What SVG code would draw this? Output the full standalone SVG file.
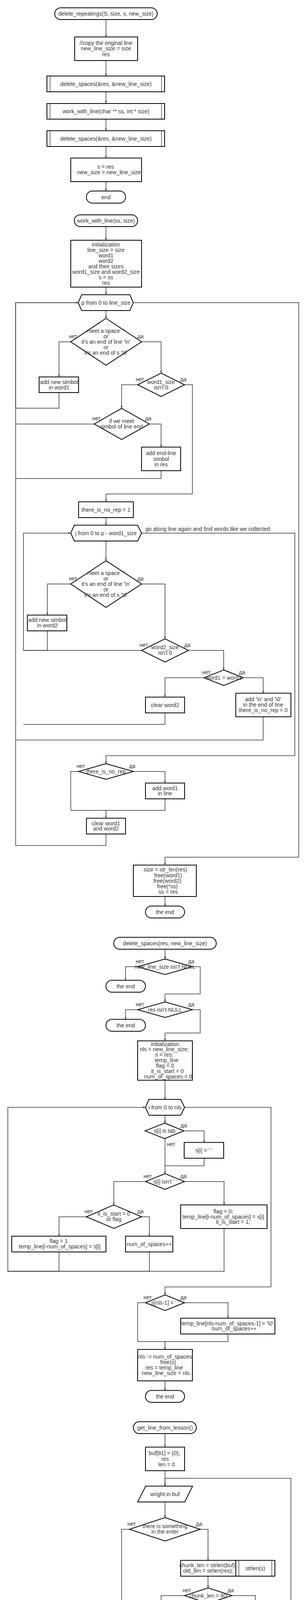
<svg xmlns="http://www.w3.org/2000/svg" width="780" height="4560" viewBox="0 0 780 4560">
<defs>
<marker id="a" viewBox="0 0 8 8" refX="8" refY="4" markerWidth="6" markerHeight="6" markerUnits="userSpaceOnUse" orient="auto"><path d="M0,1 L8,4 L0,7 z" fill="#333"/></marker>
</defs>
<style>
.s{fill:#fff;stroke:#000;stroke-width:2}
.i{stroke:#777;stroke-width:2}
.e{fill:none;stroke:#333;stroke-width:1.5}
.ea{fill:none;stroke:#333;stroke-width:1.5;marker-end:url(#a)}
text{font-family:"Liberation Sans",Arial,sans-serif;font-size:14px;fill:#333}
.t{text-anchor:middle}
.l{text-anchor:start}
</style>
<rect width="780" height="4560" fill="#fff"/>

<g id="connectors">
<path class="ea" d="M271,50V94.6"/>
<path class="ea" d="M271,155V194.6"/>
<path class="ea" d="M271,235V265"/>
<path class="ea" d="M271,305V334.6"/>
<path class="ea" d="M271,375V404.6"/>
<path class="ea" d="M271,465V489"/>
<path class="ea" d="M271,580V615"/>
<path class="ea" d="M271,735V754.6"/>
<path class="ea" d="M271,795V815"/>
<path class="ea" d="M181,875H151V965"/>
<path class="ea" d="M151,1005V1045H40V774.8H200"/>
<path class="ea" d="M362,875H412V955.4"/>
<path class="ea" d="M352,985H311V1045.4"/>
<path class="e" d="M241,1085.4H40"/>
<path class="ea" d="M382,1085.4H412V1144.6"/>
<path class="e" d="M412,1205V1225H40"/>
<path class="ea" d="M472,985H492V1264.6H271V1284.6"/>
<path class="ea" d="M271,1325V1344.6"/>
<path class="ea" d="M362,1364.8H754V1934.6H271V1955"/>
<path class="ea" d="M271,1385V1435.4"/>
<path class="ea" d="M181,1495H121V1574.6"/>
<path class="ea" d="M121,1615V1665H60V1364.8H181"/>
<path class="ea" d="M362,1495H422V1635.4"/>
<path class="e" d="M362,1665H60"/>
<path class="ea" d="M482,1665H572V1715"/>
<path class="ea" d="M522,1735H422V1784.6"/>
<path class="e" d="M422,1825V1854.6H60"/>
<path class="ea" d="M622,1735H673V1774.6"/>
<path class="e" d="M673,1835V1894.6H40"/>
<path class="ea" d="M201,1975H181V2074.6H271V2094.6"/>
<path class="ea" d="M341,1975H422V2004.6"/>
<path class="e" d="M422,2045V2074.6H271"/>
<path class="ea" d="M271,2135V2164.6H40V774.8H200"/>
<path class="ea" d="M341,774.8H764V2194.6H422V2214.6"/>
<path class="ea" d="M422,2295V2319.6"/>
<path class="ea" d="M422,2430V2455"/>
<path class="ea" d="M352,2474.8H321V2509.6"/>
<path class="ea" d="M492,2474.8H512V2544.6H422V2565"/>
<path class="ea" d="M352,2584.8H321V2609.6"/>
<path class="ea" d="M492,2584.8H512V2644.6H422V2664.6"/>
<path class="ea" d="M422,2765.4V2814.6"/>
<path class="ea" d="M472,2834.8H693V3294.6H422V3315"/>
<path class="ea" d="M422,2855V2875"/>
<path class="ea" d="M470,2895H522V2924.6"/>
<path class="e" d="M522,2965V2984.6H422"/>
<path class="ea" d="M422,2915V3004.6"/>
<path class="ea" d="M372,3024.8H291V3084.6"/>
<path class="ea" d="M472,3024.8H573V3084.6"/>
<path class="ea" d="M221,3115H151V3164.6"/>
<path class="ea" d="M362,3115H382V3164.6"/>
<path class="ea" d="M151,3205V3254.6H20V2834.8H372"/>
<path class="e" d="M382,3205V3254.6H20"/>
<path class="e" d="M573,3145V3254.6H20"/>
<path class="ea" d="M372,3335H352V3434.6H422V3454.6"/>
<path class="ea" d="M472,3335H583V3374.6"/>
<path class="e" d="M583,3415V3434.6H422"/>
<path class="ea" d="M422,3535V3559.6"/>
<path class="ea" d="M422,3670V3704.6"/>
<path class="ea" d="M422,3765V3804.6"/>
<path class="ea" d="M422,3845V3885"/>
<path class="ea" d="M512,3915H532V3994.6"/>
<path class="ea" d="M532,4035V4065"/>
<path class="ea" d="M472,4084.8H412V4144.6"/>
<path class="ea" d="M593,4084.8H653V4144.6"/>
<path class="ea" d="M412,4185V4204.6H532V4224.6"/>
<path class="e" d="M653,4185V4204.6H532"/>
<path class="ea" d="M532,4265V4284.6H744V3784.6H422V3804.6"/>
<path class="ea" d="M331,3915H311V4324.6H422V4345"/>
<path class="ea" d="M372,4364.6H311V4414.6"/>
<path class="ea" d="M472,4364.6H532V4414.6"/>
<path class="ea" d="M311,4455V4494.6H422V4509.6"/>
<path class="e" d="M532,4455V4494.6H422"/>
</g>

<g id="labels">
<text class="l" x="176" y="866">нет</text><text class="l" x="351" y="866">да</text>
<text class="l" x="347" y="976">нет</text><text class="l" x="461" y="976">да</text>
<text class="l" x="236" y="1076">нет</text><text class="l" x="371" y="1076">да</text>
<text class="l" x="176" y="1486">нет</text><text class="l" x="351" y="1486">да</text>
<text class="l" x="357" y="1656">нет</text><text class="l" x="471" y="1656">да</text>
<text class="l" x="517" y="1726">нет</text><text class="l" x="611" y="1726">да</text>
<text class="l" x="196" y="1966">нет</text><text class="l" x="330" y="1966">да</text>
<text class="l" x="347" y="2466">нет</text><text class="l" x="481" y="2466">да</text>
<text class="l" x="347" y="2576">нет</text><text class="l" x="481" y="2576">да</text>
<text class="l" x="462" y="2886">да</text><text class="l" x="427" y="2934">нет</text>
<text class="l" x="367" y="3016">нет</text><text class="l" x="461" y="3016">да</text>
<text class="l" x="216" y="3106">нет</text><text class="l" x="351" y="3106">да</text>
<text class="l" x="367" y="3326">нет</text><text class="l" x="461" y="3326">да</text>
<text class="l" x="326" y="3906">нет</text><text class="l" x="501" y="3906">да</text>
<text class="l" x="467" y="4076">нет</text><text class="l" x="582" y="4076">да</text>
<text class="l" x="367" y="4356">нет</text><text class="l" x="461" y="4356">да</text>
<text class="l" x="372" y="1359">go along line again and find words like we collected</text>
</g>

<g id="t1"><rect class="s" x="140" y="20" width="262" height="30" rx="15"/><text class="t" x="271" y="40">delete_repeatings(S, size, s, new_size)</text></g>
<g id="b1"><rect class="s" x="191" y="94.6" width="161" height="60.4"/><text class="t"><tspan x="271" y="115">//copy the original line</tspan><tspan x="271" y="129.3">new_line_size = size</tspan><tspan x="271" y="143.6">res</tspan></text></g>
<g id="pp1"><rect class="s" x="120" y="194.6" width="301" height="40.4"/><path class="i" d="M128,195.6V234M413,195.6V234"/><text class="t" x="271" y="220">delete_spaces(&amp;res, &amp;new_line_size)</text></g>
<g id="pp2"><rect class="s" x="120" y="265" width="301" height="40"/><path class="i" d="M128,266V304M413,266V304"/><text class="t" x="271" y="290">work_with_line(char ** ss, int * size)</text></g>
<g id="pp3"><rect class="s" x="120" y="334.6" width="301" height="40.4"/><path class="i" d="M128,335.6V374M413,335.6V374"/><text class="t" x="271" y="360">delete_spaces(&amp;res, &amp;new_line_size)</text></g>
<g id="b2"><rect class="s" x="181" y="404.6" width="181" height="60.4"/><text class="t"><tspan x="270" y="432">s = res</tspan><tspan x="279" y="446.4">new_size = new_line_size</tspan></text></g>
<g id="t2"><rect class="s" x="221" y="489" width="100" height="31" rx="15"/><text class="t" x="271" y="509.5">end</text></g>

<g id="t3"><rect class="s" x="190" y="550" width="162" height="30" rx="15"/><text class="t" x="271" y="570">work_with_line(ss, size)</text></g>
<g id="b3"><rect class="s" x="181" y="615" width="181" height="120"/><text class="t"><tspan x="271" y="630.5">initialization</tspan><tspan x="271" y="644.5">line_size = size</tspan><tspan x="271" y="658.5">word1</tspan><tspan x="271" y="672.5">word2</tspan><tspan x="271" y="686.5">and their sizes</tspan><tspan x="271" y="700.5">word1_size and word2_size</tspan><tspan x="271" y="714.5">s = ss</tspan><tspan x="271" y="728.5">res</tspan></text></g>
<g id="h1"><polygon class="s" points="200,774.8 209,754.6 332,754.6 341,774.8 332,795 209,795"/><text class="t" x="271" y="779.8">p from 0 to line_size</text></g>
<g id="d1"><polygon class="s" points="271,815 362,875 271,935 181,875"/><text class="t"><tspan x="271" y="851.5">meet a space ' '</tspan><tspan x="271" y="865.5">or</tspan><tspan x="271" y="879.5">it's an end of line '\n'</tspan><tspan x="271" y="893.5">or</tspan><tspan x="271" y="907.5">it's an end of s '\0'</tspan></text></g>
<g id="b4"><rect class="s" x="100" y="965" width="101" height="40"/><text class="t"><tspan x="151" y="982.5">add new simbol</tspan><tspan x="151" y="996.5">in word1</tspan></text></g>
<g id="d2"><polygon class="s" points="412,955.4 472,985 412,1015 352,985"/><text class="t"><tspan x="412" y="982.5">word1_size</tspan><tspan x="412" y="996.5">isn't 0</tspan></text></g>
<g id="d3"><polygon class="s" points="311,1045.4 382,1085.4 311,1125 241,1085.4"/><text class="t"><tspan x="311" y="1082.5">if we meet</tspan><tspan x="311" y="1096.8">simbol of line end</tspan></text></g>
<g id="b5"><rect class="s" x="362" y="1144.6" width="100" height="60.4"/><text class="t"><tspan x="412" y="1165.4">add end-line</tspan><tspan x="412" y="1179.6">simbol</tspan><tspan x="412" y="1193.6">in res</tspan></text></g>
<g id="b6"><rect class="s" x="201" y="1284.6" width="140" height="40.4"/><text class="t" x="271" y="1309.8">there_is_no_rep = 1</text></g>
<g id="h2"><polygon class="s" points="181,1364.8 190,1344.6 352,1344.6 362,1364.8 352,1385 190,1385"/><text class="t" x="271" y="1369.8">j from 0 to p - word1_size</text></g>
<g id="d4"><polygon class="s" points="271,1435.4 362,1495 271,1555 181,1495"/><text class="t"><tspan x="271" y="1471.5">meet a space ' '</tspan><tspan x="271" y="1485.5">or</tspan><tspan x="271" y="1499.5">it's an end of line '\n'</tspan><tspan x="271" y="1513.5">or</tspan><tspan x="271" y="1527.5">it's an end of s '\0'</tspan></text></g>
<g id="b7"><rect class="s" x="70" y="1574.6" width="101" height="40.4"/><text class="t"><tspan x="121" y="1592">add new simbol</tspan><tspan x="121" y="1606.4">in word2</tspan></text></g>
<g id="d5"><polygon class="s" points="422,1635.4 482,1665 422,1695 362,1665"/><text class="t"><tspan x="422" y="1662">word2_size</tspan><tspan x="422" y="1676.4">isn't 0</tspan></text></g>
<g id="d6"><polygon class="s" points="572,1715 622,1735 572,1755 522,1735"/><text class="t" x="572" y="1740">word1 = word2</text></g>
<g id="b8"><rect class="s" x="372" y="1784.6" width="100" height="40.4"/><text class="t" x="422" y="1810">clear word2</text></g>
<g id="b9"><rect class="s" x="603" y="1774.6" width="141" height="60.4"/><text class="t"><tspan x="673" y="1795.4">add '\n' and '\0'</tspan><tspan x="673" y="1809.3">in the end of line</tspan><tspan x="673" y="1823.2">there_is_no_rep = 0</tspan></text></g>
<g id="d7"><polygon class="s" points="271,1955 341,1975 271,1995 201,1975"/><text class="t" x="271" y="1980">there_is_no_rep</text></g>
<g id="b10"><rect class="s" x="372" y="2004.6" width="100" height="40.4"/><text class="t"><tspan x="422" y="2022.5">add word1</tspan><tspan x="422" y="2036.4">in line</tspan></text></g>
<g id="b11"><rect class="s" x="221" y="2094.6" width="100" height="40.4"/><text class="t"><tspan x="271" y="2112.5">clear word1</tspan><tspan x="271" y="2126.4">and word2</tspan></text></g>
<g id="b12"><rect class="s" x="341" y="2214.6" width="161" height="80.4"/><text class="t"><tspan x="423" y="2231.4">size = str_len(res)</tspan><tspan x="430" y="2245.7">free(word1)</tspan><tspan x="428" y="2259.6">free(word2)</tspan><tspan x="428" y="2273.6">free(*ss)</tspan><tspan x="430" y="2287.5">ss = res</tspan></text></g>
<g id="t4"><rect class="s" x="372" y="2319.6" width="100" height="30.4" rx="15"/><text class="t" x="422" y="2339.8">the end</text></g>

<g id="t5"><rect class="s" x="291" y="2399.6" width="262" height="30.4" rx="15"/><text class="t" x="422" y="2419.8">delete_spaces(res, new_line_size)</text></g>
<g id="d8"><polygon class="s" points="422,2455 492,2474.8 422,2494.6 352,2474.8"/><text class="t" x="422" y="2479.8">new_line_size isn't NULL</text></g>
<g id="t6"><rect class="s" x="271" y="2509.6" width="101" height="30.4" rx="15"/><text class="t" x="321.5" y="2529.8">the end</text></g>
<g id="d9"><polygon class="s" points="422,2565 492,2584.8 422,2604.6 352,2584.8"/><text class="t" x="422" y="2589.8">res isn't NULL</text></g>
<g id="t7"><rect class="s" x="271" y="2609.6" width="101" height="30.4" rx="15"/><text class="t" x="321.5" y="2629.8">the end</text></g>
<g id="b13"><rect class="s" x="352" y="2664.6" width="140" height="100.8"/><text class="t"><tspan x="422" y="2677.5">initialization</tspan><tspan x="420" y="2691.4">nls = new_line_size;</tspan><tspan x="420" y="2705.4">s = res;</tspan><tspan x="426" y="2719">temp_line</tspan><tspan x="422" y="2733">flag = 0</tspan><tspan x="428" y="2747">it_is_start = 0</tspan><tspan x="430" y="2761">num_of_spaces = 0</tspan></text></g>
<g id="h3"><polygon class="s" points="372,2834.8 381,2814.6 462,2814.6 472,2834.8 462,2855 381,2855"/><text class="t" x="422" y="2839.8">i from 0 to nls</text></g>
<g id="d10"><polygon class="s" points="421,2875 470,2895 421,2915 371,2895"/><text class="t" x="421" y="2900">s[i] is tab</text></g>
<g id="b14"><rect class="s" x="471" y="2924.6" width="101" height="40.4"/><text class="t" x="521" y="2950">s[i] = ' '</text></g>
<g id="d11"><polygon class="s" points="422,3004.6 472,3024.8 422,3044.6 372,3024.8"/><text class="t" x="422" y="3029.8">s[i] isn't ' '</text></g>
<g id="b15"><rect class="s" x="462" y="3084.6" width="221" height="60.4"/><text class="t"><tspan x="571" y="3105.7">flag = 0;</tspan><tspan x="571" y="3119.6">temp_line[i-num_of_spaces] = s[i]</tspan><tspan x="596" y="3133.2">it_is_start = 1;</tspan></text></g>
<g id="d12"><polygon class="s" points="291,3084.6 362,3115 291,3144.6 221,3115"/><text class="t"><tspan x="291" y="3112">it_is_start = 0</tspan><tspan x="291" y="3126.4">or flag</tspan></text></g>
<g id="b16"><rect class="s" x="30" y="3164.6" width="241" height="40.4"/><text class="t"><tspan x="150" y="3182">flag = 1</tspan><tspan x="152.5" y="3196.4">temp_line[i-num_of_spaces] = s[i]</tspan></text></g>
<g id="b17"><rect class="s" x="321" y="3164.6" width="121" height="40.4"/><text class="t" x="381.5" y="3189.8">num_of_spaces++</text></g>
<g id="d13"><polygon class="s" points="422,3315 472,3335 422,3355 372,3335"/><text class="t" x="422" y="3340">s[nls-1] = ' '</text></g>
<g id="b18"><rect class="s" x="462" y="3374.6" width="241" height="40.4"/><text class="t"><tspan x="581.5" y="3392.5">temp_line[nls-num_of_spaces-1] = '\0'</tspan><tspan x="598.5" y="3406.4">num_of_spaces++</tspan></text></g>
<g id="b19"><rect class="s" x="352" y="3454.6" width="140" height="80.4"/><text class="t"><tspan x="422" y="3478.2">nls -= num_of_spaces</tspan><tspan x="430" y="3492.1">free(s)</tspan><tspan x="420" y="3506">res = temp_line</tspan><tspan x="424" y="3520.4">new_line_size = nls</tspan></text></g>
<g id="t8"><rect class="s" x="372" y="3559.6" width="100" height="30.4" rx="15"/><text class="t" x="422" y="3579.8">the end</text></g>

<g id="t9"><rect class="s" x="341" y="3639.6" width="161" height="30.4" rx="15"/><text class="t" x="422" y="3659.8">get_line_from_lesson()</text></g>
<g id="b20"><rect class="s" x="372" y="3704.6" width="100" height="60.4"/><text class="t"><tspan x="420.5" y="3725.4">buf[81] = {0};</tspan><tspan x="422" y="3739.6">res</tspan><tspan x="426" y="3753.6">len = 0</tspan></text></g>
<g id="p1"><polygon class="s" points="372.5,3804.6 492.5,3804.6 472.5,3845 352,3845"/><text class="t" x="422" y="3829.8">wright in buf</text></g>
<g id="d14"><polygon class="s" points="422,3885 512,3915 422,3945 331,3915"/><text class="t"><tspan x="422" y="3912">there is something</tspan><tspan x="422" y="3926.4">in the enter</tspan></text></g>
<g id="b21"><rect class="s" x="462" y="3994.6" width="141" height="40.4"/><text class="t"><tspan x="532" y="4012">chunk_len = strlen(buf);</tspan><tspan x="532.5" y="4026.4">old_len = strlen(res);</tspan></text></g>
<g id="pp4"><rect class="s" x="603" y="3994.6" width="100" height="40.4"/><path class="i" d="M611,3995.6V4034M695,3995.6V4034"/><text class="t" x="653" y="4019.8">strlen(s)</text></g>
<g id="d15"><polygon class="s" points="532,4065 593,4084.8 532,4104.6 472,4084.8"/><text class="t" x="532" y="4089.8">chunk_len = 80</text></g>
<g id="b22"><rect class="s" x="341" y="4144.6" width="141" height="40.4"/><text class="t"><tspan x="412" y="4162.5">add buffer's simbols</tspan><tspan x="412" y="4176.8">to res other way</tspan></text></g>
<g id="pp5"><rect class="s" x="482" y="4144.6" width="101" height="40.4"/><path class="i" d="M490,4145.6V4184M575,4145.6V4184"/><text class="t"><tspan x="532" y="4162.5">memcpy</tspan><tspan x="532" y="4176.8">(s1, s2, len)</tspan></text></g>
<g id="b23"><rect class="s" x="583" y="4144.6" width="140" height="40.4"/><text class="t"><tspan x="653" y="4162.5">add buffer's simbols</tspan><tspan x="653" y="4176.8">to res</tspan></text></g>
<g id="b24"><rect class="s" x="482" y="4224.6" width="101" height="40.4"/><text class="t"><tspan x="532" y="4242">len = strlen(res)</tspan><tspan x="532" y="4256.4">buf = {'\0'}</tspan></text></g>
<g id="pp6"><rect class="s" x="583" y="4224.6" width="100" height="40.4"/><path class="i" d="M591,4225.6V4264M675,4225.6V4264"/><text class="t" x="633" y="4249.8">strlen(s)</text></g>
<g id="d16"><polygon class="s" points="422,4345 472,4364.6 422,4384.3 372,4364.6"/><text class="t" x="422" y="4369.6">len &gt; 0</text></g>
<g id="b25"><rect class="s" x="261" y="4414.6" width="101" height="40.4"/><text class="t" x="311" y="4439.8">res = "\0"</text></g>
<g id="b26"><rect class="s" x="482" y="4414.6" width="101" height="40.4"/><text class="t" x="532" y="4439.8">res[len-1] = '\0'</text></g>
<g id="t10"><rect class="s" x="372" y="4509.6" width="100" height="30.4" rx="15"/><text class="t"><tspan x="422" y="4522.3">return res</tspan><tspan x="422" y="4536">the end</tspan></text></g>
</svg>
